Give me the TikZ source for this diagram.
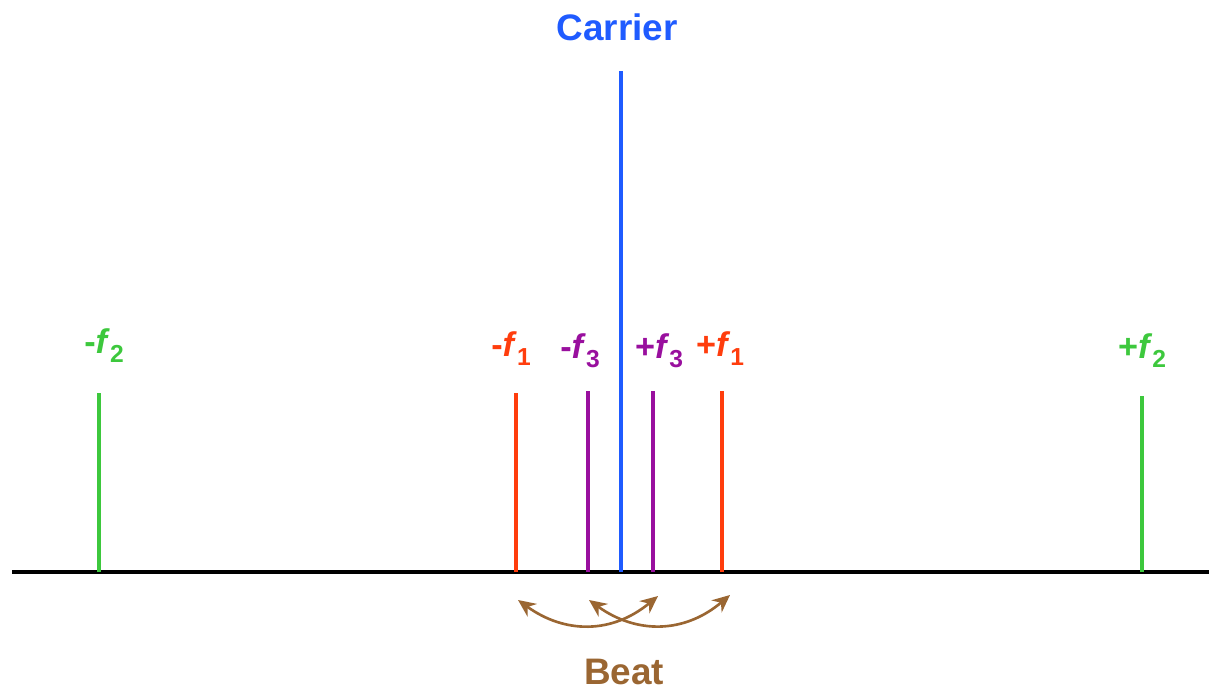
\documentclass[tikz,border=0pt]{standalone}
\usepackage{fontspec}
\setmainfont{Liberation Sans}
\usepackage{xcolor}
\usetikzlibrary{arrows.meta,calc}
\definecolor{carrierblue}{HTML}{1F5BFF}
\definecolor{sidered}{HTML}{FF3D0D}
\definecolor{sidegreen}{HTML}{3DC83D}
\definecolor{sidepurple}{HTML}{990F9E}
\definecolor{beatbrown}{HTML}{9A6632}
\newcommand{\fline}[2]{\textbf{#1\textit{f}\raisebox{-0.5ex}{\fontsize{14}{16}\selectfont #2}}}

\begin{document}
\begin{tikzpicture}[x=0.02cm,y=-0.02cm, every node/.style={font=\fontsize{19.5}{22}\selectfont\bfseries,inner sep=0pt},
  spec/.style={line width=2.6pt}, beat/.style={beatbrown,line width=1.5pt,{Stealth[length=10pt,width=9pt]}-{Stealth[length=10pt,width=9pt]}}]
\useasboundingbox (0,0) rectangle (1209,691);
% axis
\coordinate (axl) at (12,572);
\coordinate (axr) at (1209,572);
\draw[line width=2.6pt] (axl) -- (axr);
% spectral lines
\coordinate (c) at (621,572);   \coordinate (ct) at (621,71);
\coordinate (m1) at (516,572);  \coordinate (m1t) at (516,393);
\coordinate (p1) at (722,572);  \coordinate (p1t) at (722,391);
\coordinate (m3) at (588,572);  \coordinate (m3t) at (588,391);
\coordinate (p3) at (653,572);  \coordinate (p3t) at (653,391);
\coordinate (m2) at (99,572);   \coordinate (m2t) at (99,393);
\coordinate (p2) at (1142,572); \coordinate (p2t) at (1142,396);
\draw[spec,carrierblue] (c) -- (ct);
\draw[spec,sidered] (m1) -- (m1t);
\draw[spec,sidered] (p1) -- (p1t);
\draw[spec,sidepurple] (m3) -- (m3t);
\draw[spec,sidepurple] (p3) -- (p3t);
\draw[spec,sidegreen] (m2) -- (m2t);
\draw[spec,sidegreen] (p2) -- (p2t);
% labels
\node[carrierblue,font=\fontsize{21}{24}\selectfont\bfseries] (carrier) at (617,27) {Carrier};
\node[sidered] (lm1) at (511,349) {\fline{-}{1}};
\node[sidered] (lp1) at (720,349) {\fline{+}{1}};
\node[sidepurple] (lm3) at (580,351) {\fline{-}{3}};
\node[sidepurple] (lp3) at (659,351) {\fline{+}{3}};
\node[sidegreen] (lm2) at (104,346) {\fline{-}{2}};
\node[sidegreen] (lp2) at (1142,351) {\fline{+}{2}};
% beat
\coordinate (b1a) at (518,600); \coordinate (b1b) at (658,596);
\coordinate (b2a) at (589,600); \coordinate (b2b) at (730,595);
\draw[beat] (b1a) .. controls (565,634) and (612,634) .. (b1b);
\draw[beat] (b2a) .. controls (636,634) and (684,634) .. (b2b);
\node[beatbrown,font=\fontsize{21}{24}\selectfont\bfseries] (beat) at (624,672) {Beat};
\end{tikzpicture}
\end{document}
